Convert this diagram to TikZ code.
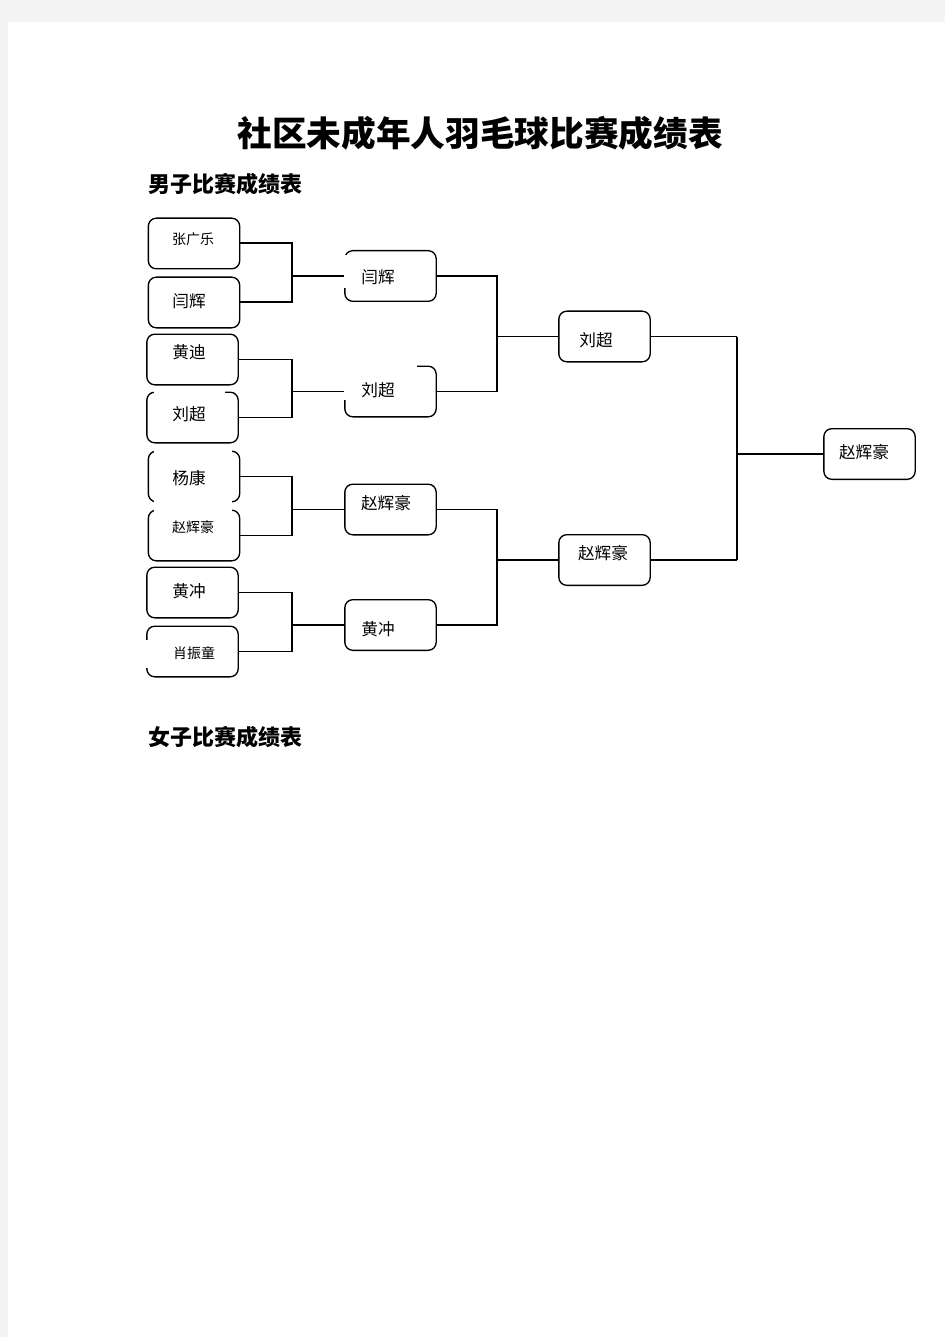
\documentclass[tikz,border=0pt]{standalone}
\usepackage{fontspec}
\newfontfamily\cjk{Noto Sans CJK SC}
\definecolor{pagegrey}{RGB}{244,244,244}

\begin{document}
\begin{tikzpicture}[x=0.75pt, y=-0.75pt, font=\cjk,
	player/.style={draw, rounded corners=6pt, line width=1pt, minimum width=68.5pt, minimum height=38pt, inner sep=0pt},
	pname/.style={font=\cjk\fontsize{12.5}{15}\selectfont, inner sep=0pt},
	psmall/.style={font=\cjk\fontsize{10.5}{12}\selectfont, inner sep=0pt},
	heading/.style={font=\cjk\bfseries\fontsize{16.5}{20}\selectfont},
	link/.style={line width=0.9pt},
	boldlink/.style={line width=1.5pt},
	gap/.style={fill=white, draw=none}]

	% Page
	\useasboundingbox (0,0) rectangle (945,1337);
	\fill [pagegrey] (0,0) rectangle (945,1337);
	\fill [white] (8,22) rectangle (945,1337);

	% Titles
	\node [font=\cjk\bfseries\fontsize{26}{30}\selectfont] (title) at (480,133) {社区未成年人羽毛球比赛成绩表};
	\node [heading] (boys)  at (225,184) {男子比赛成绩表};
	\node [heading] (girls) at (225,737) {女子比赛成绩表};

	% Nodes, first round {a1 .. a8}
	\node [player, label={[psmall, shift={(-1,-4.5)}]center:张广乐}] (a1) at (194,243.5) {};
	\node [player, label={[pname, shift={(-5,-1.5)}]center:闫辉}]   (a2) at (194,302.5) {};
	\node [player, label={[pname, shift={(-3.5,-7.5)}]center:黄迪}] (a3) at (192.5,359.5) {};
	\node [player, label={[pname, shift={(-3.5,-3.5)}]center:刘超}] (a4) at (192.5,417.5) {};
	\node [player, label={[pname, shift={(-5,1.5)}]center:杨康}]    (a5) at (194,476.5) {};
	\node [player, label={[psmall, shift={(-1,-8.5)}]center:赵辉豪}] (a6) at (194,535.5) {};
	\node [player, label={[pname, shift={(-3.5,-1.5)}]center:黄冲}] (a7) at (192.5,592.5) {};
	\node [player, label={[psmall, shift={(1.5,1.5)}]center:肖振童}] (a8) at (192.5,651.5) {};

	% Nodes, second round {b1 .. b4}
	\node [player, label={[pname, shift={(-12.5,1)}]center:闫辉}]   (b1) at (390.5,276) {};
	\node [player, label={[pname, shift={(-12.5,-1.5)}]center:刘超}] (b2) at (390.5,391.5) {};
	\node [player, label={[pname, shift={(-4.5,-6.5)}]center:赵辉豪}] (b3) at (390.5,509.5) {};
	\node [player, label={[pname, shift={(-12.5,4)}]center:黄冲}]   (b4) at (390.5,625) {};

	% Nodes, semi final {c1, c2} and final {d}
	\node [player, label={[pname, shift={(-8.5,3.5)}]center:刘超}]  (c1) at (604.5,336.5) {};
	\node [player, label={[pname, shift={(-1.5,-7)}]center:赵辉豪}] (c2) at (604.5,560) {};
	\node [player, label={[pname, shift={(-5.5,-2)}]center:赵辉豪}] (d)  at (869.5,454) {};

	% Gaps in the borders
	\fill [gap] (341,255) rectangle (349,288);
	\fill [gap] (341,362) rectangle (417,370);
	\fill [gap] (341,362) rectangle (349,400);
	\fill [gap] (154,389) rectangle (225,395);
	\fill [gap] (154,448) rectangle (232,454);
	\fill [gap] (154,499) rectangle (232,505);
	\fill [gap] (154,507) rectangle (232,513);
	\fill [gap] (144,640) rectangle (150,668);

	% Junctions
	\coordinate (j1) at (292,276);
	\coordinate (j2) at (292,391.5);
	\coordinate (j3) at (292,509.5);
	\coordinate (j4) at (292,625);
	\coordinate (k1) at (497,336.5);
	\coordinate (k2) at (497,560);
	\coordinate (m)  at (737,454);

	% Paths
	\draw [boldlink] (a1.east) -| (j1) |- (a2.east);
	\draw [boldlink] (j1) -- (b1.west);
	\draw [link] (a3.east) -| (j2) |- (a4.east);
	\draw [link] (j2) -- (b2.west);
	\draw [link] (a5.east) -| (j3) |- (a6.east);
	\draw [link] (j3) -- (b3.west);
	\draw [link] (a7.east) -| (j4) |- (a8.east);
	\draw [link] (j4) -- (b4.west);

	\draw [boldlink] (b1.east) -| (k1);
	\draw [link] (k1) |- (b2.east);
	\draw [link] (k1) -- (c1.west);
	\draw [link] (b3.east) -| (k2) |- (b4.east);
	\draw [link] (k2) -- (c2.west);

	\draw [link] (c1.east) -- (c1.east -| m);
	\draw [link] (c2.east) -- (c2.east -| m);
	\draw [boldlink] (c1.east -| m) -- (c2.east -| m);
	\draw [link] (m) -- (d.west);

\end{tikzpicture}
\end{document}
